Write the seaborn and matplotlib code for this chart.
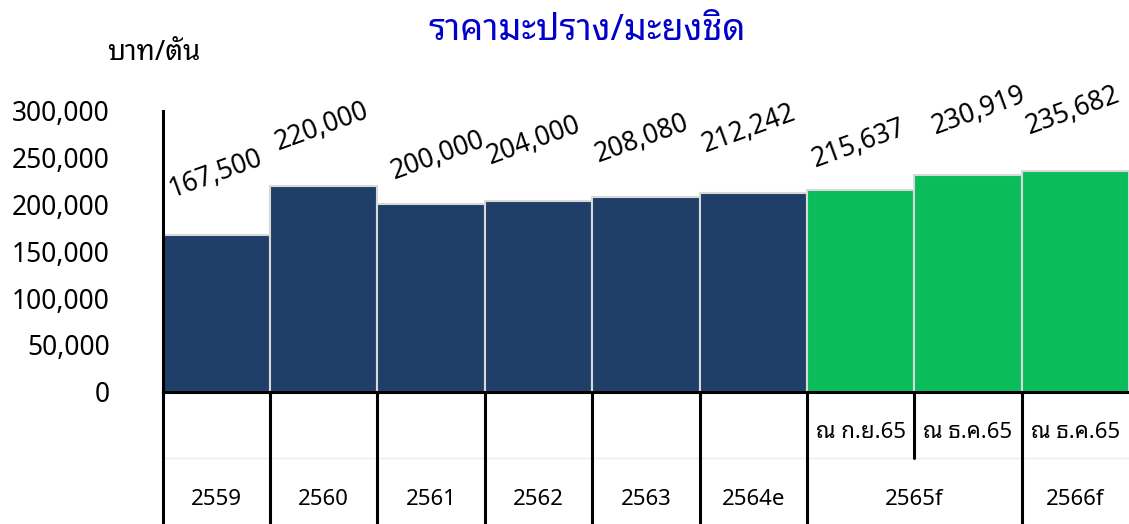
import pandas as pd
import seaborn as sns
import matplotlib
matplotlib.use("Agg")
import matplotlib.pyplot as plt

# ข้อมูลราคามะปราง/มะยงชิด (บาท/ตัน)
bar_ids = ["2559", "2560", "2561", "2562", "2563", "2564e", "2565f-1", "2565f-2", "2566f"]
prices = [167500, 220000, 200000, 204000, 208080, 212242, 215637, 230919, 235682]
bar_colors = ["#1F3F68"] * 6 + ["#0ABC5A"] * 3

# แถวล่างของตาราง: ปี และจำนวนแท่งที่แต่ละปีครอบคลุม
year_labels = ["2559", "2560", "2561", "2562", "2563", "2564e", "2565f", "2566f"]
year_spans = [1, 1, 1, 1, 1, 1, 2, 1]
# แถวบน: หมายเหตุของแท่งคาดการณ์ (แท่งที่ 7-9)
note_labels = ["", "", "", "", "", "", "ณ ก.ย.65", "ณ ธ.ค.65", "ณ ธ.ค.65"]

# ระยะเลื่อนป้ายตัวเลข (px) จากมุมซ้ายบนของแท่ง
label_offsets = [(10, 38), (8, 35), (17, 25), (6, 36), (6, 35), (6, 41), (8, 22), (21, 41), (8, 37)]

df = pd.DataFrame({"bar": bar_ids, "price": prices})

sns.set_style("white")
plt.rcParams['font.family'] = ['Noto Sans Thai Looped', 'DejaVu Sans']
plt.rcParams['text.color'] = 'black'

fig = plt.figure(figsize=(11.29, 5.24), dpi=100)
ax = fig.add_axes([0.1441, 0.2525, 0.8559, 0.5362])

sns.barplot(data=df, x="bar", y="price", hue="bar", palette=bar_colors, saturation=1,
            width=1.0, edgecolor="#d9d9d9", linewidth=1.5, legend=False, ax=ax)

ax.set_xlim(-0.5, 8.5)
ax.set_ylim(0, 300000)
yt = list(range(0, 300001, 50000))
ax.set_yticks(yt)
ax.set_yticklabels([f"{v:,}" for v in yt], fontsize=19)
ax.tick_params(axis="y", length=9, width=2.2, pad=29, colors="black", labelcolor="black")
ax.tick_params(axis="x", length=0, labelbottom=False)
ax.set_xlabel("")
ax.set_ylabel("")
for s in ["top", "right"]:
    ax.spines[s].set_visible(False)
for s in ["left", "bottom"]:
    ax.spines[s].set_color("black")
    ax.spines[s].set_linewidth(2.2)

# ป้ายค่าบนแท่ง
for i, (v, (dx, dy)) in enumerate(zip(prices, label_offsets)):
    ax.annotate(f"{v:,}", xy=(i - 0.5, v), xytext=(dx * 0.72, dy * 0.72),
                textcoords="offset points", rotation=20, rotation_mode="anchor",
                ha="left", va="baseline", fontsize=19, color="black", annotation_clip=False)

# ตารางใต้แกน x
tr = ax.get_xaxis_transform()
ax.plot([-0.5, 8.5], [-0.236, -0.236], transform=tr, color="#ebebeb", lw=1, clip_on=False)
left = -0.5
for lab, span in zip(year_labels, year_spans):
    ax.plot([left, left], [0, -0.5], transform=tr, color="black", lw=2.2, clip_on=False)
    for k in range(1, span):
        ax.plot([left + k, left + k], [0, -0.236], transform=tr, color="black", lw=2.2, clip_on=False)
    ax.text(left + span / 2, -0.385, lab, transform=tr, ha="center", va="center",
            fontsize=16, color="black")
    left += span
for i, lab in enumerate(note_labels):
    if lab:
        ax.text(i, -0.147, lab, transform=tr, ha="center", va="center", fontsize=16, color="black")

fig.text(587 / 1129, 1 - 31 / 524, "ราคามะปราง/มะยงชิด", ha="center", va="center",
         fontsize=26, fontweight="bold", color="#0000CC")
fig.text(154 / 1129, 1 - 53 / 524, "บาท/ตัน", ha="center", va="center",
         fontsize=20, fontweight="bold", color="black")

fig.savefig("out.png", dpi=100)
